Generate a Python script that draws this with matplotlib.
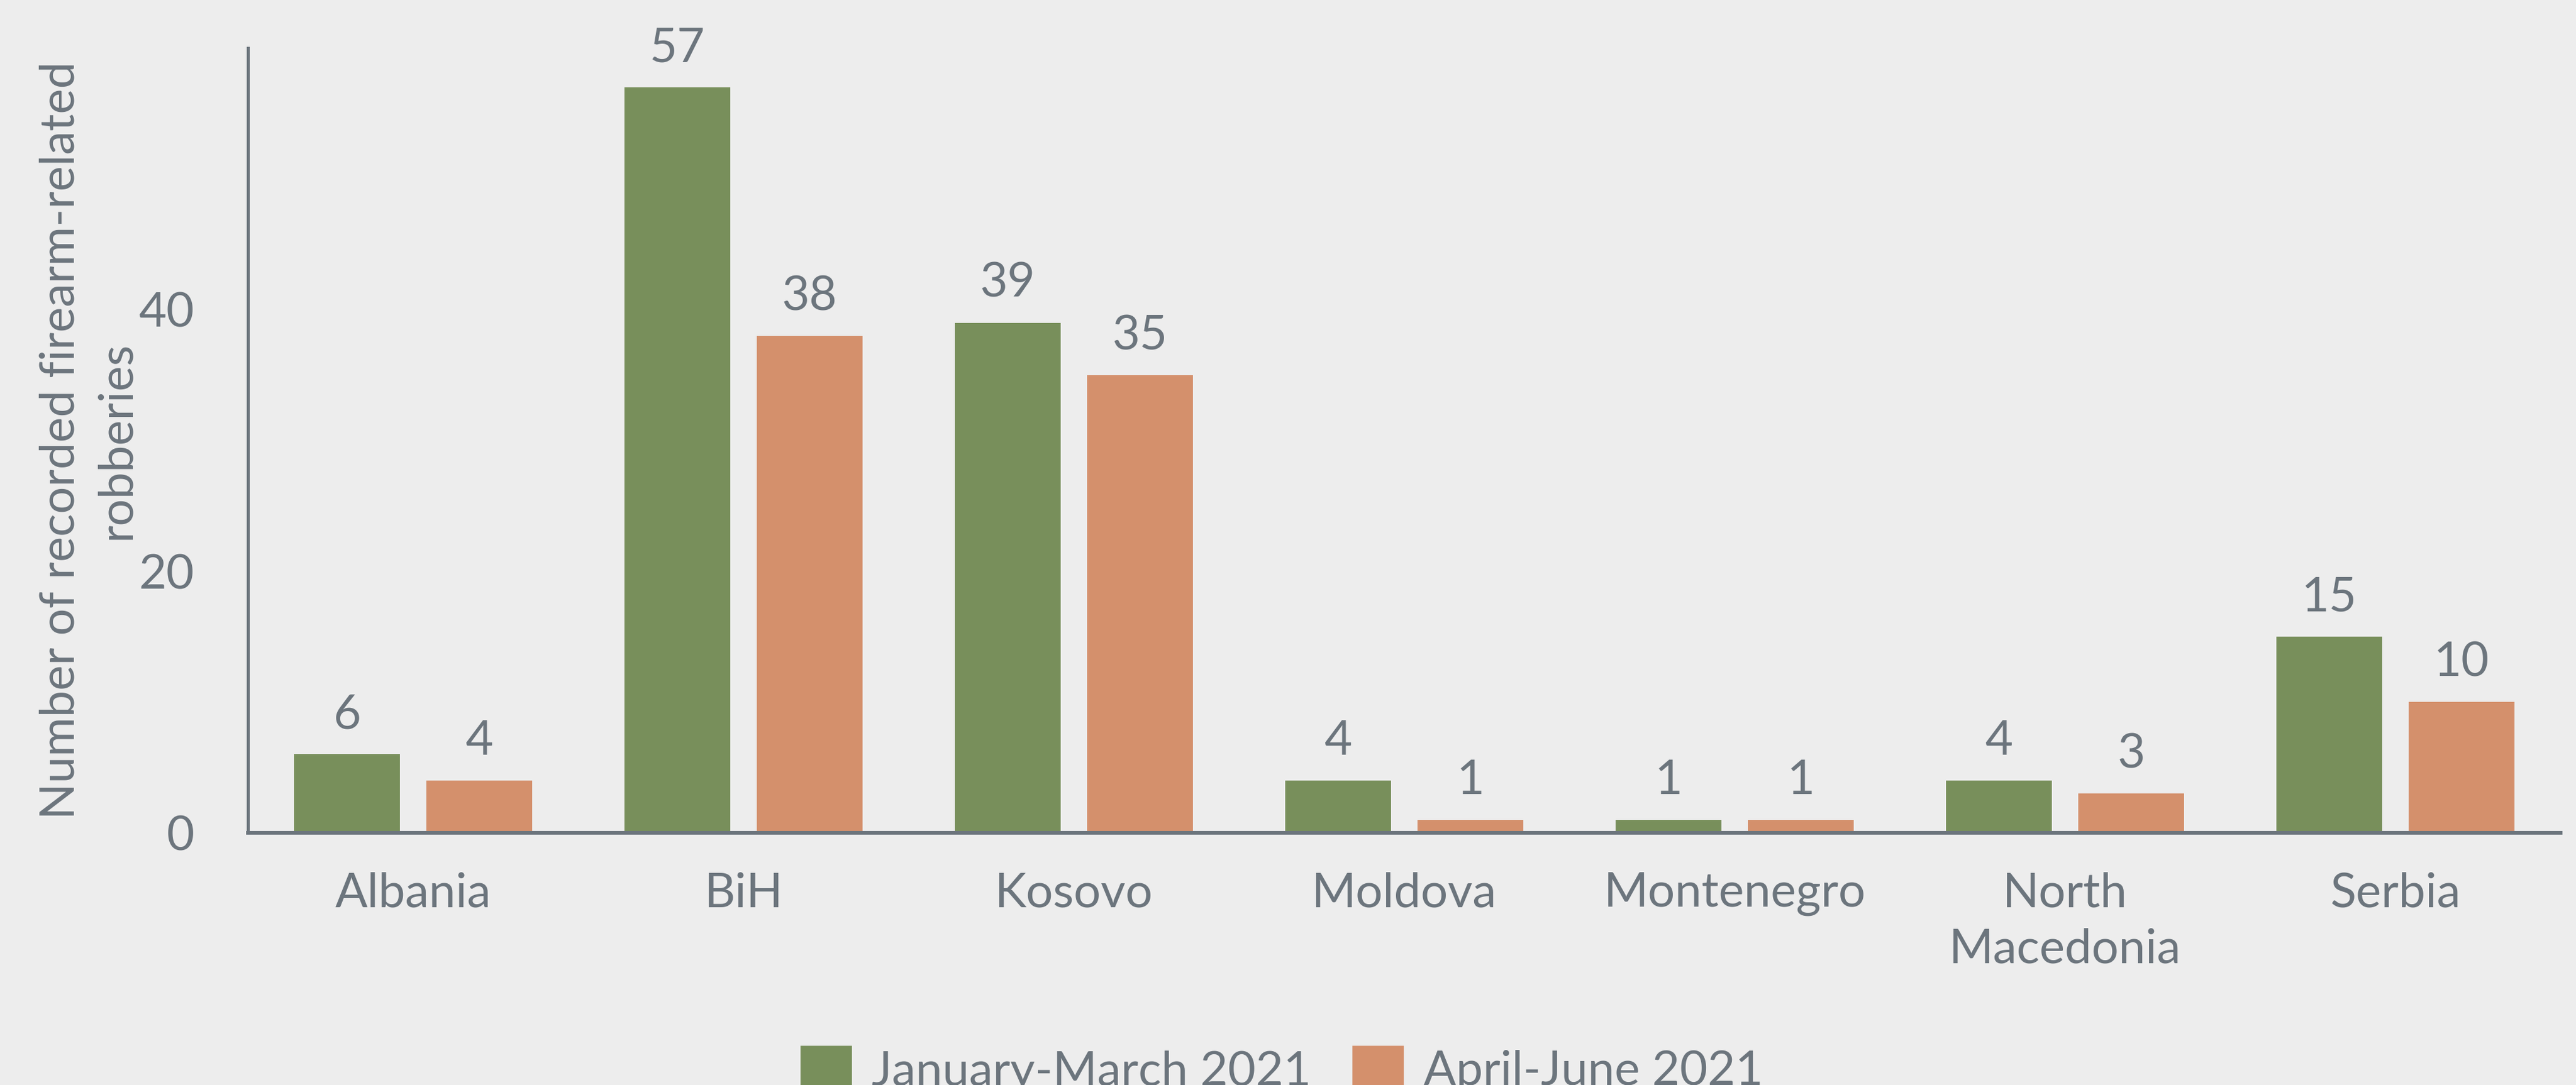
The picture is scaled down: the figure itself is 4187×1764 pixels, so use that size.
import matplotlib
matplotlib.use("Agg")
import matplotlib.pyplot as plt
from matplotlib.patches import Rectangle
import numpy as np

# data
countries = ["Albania", "BiH", "Kosovo", "Moldova", "Montenegro",
             "North\nMacedonia", "Serbia"]
jan_mar = [6, 57, 39, 4, 1, 4, 15]
apr_jun = [4, 38, 35, 1, 1, 3, 10]
series_names = ["January-March 2021", "April-June 2021"]
y_ticks = [0, 20, 40]

GREEN = "#788F5B"
ORANGE = "#D4906C"
GREY = "#6C757D"
BG = "#EDEDED"

plt.rcParams['font.family'] = ['Lato', 'DejaVu Sans']
FS = 56

fig = plt.figure(figsize=(41.87, 17.64), dpi=100, facecolor=BG)
ax = fig.add_axes([0.0963, 0.2324, 0.8977, 0.7234])
ax.set_facecolor(BG)

x = np.arange(len(countries))
w = 0.32
b1 = ax.bar(x - 0.2, jan_mar, width=w, color=GREEN)
b2 = ax.bar(x + 0.2, apr_jun, width=w, color=ORANGE)

for bars, vals in ((b1, jan_mar), (b2, apr_jun)):
    for r, v in zip(bars, vals):
        ax.annotate(str(v), (r.get_x() + r.get_width() / 2, v),
                    xytext=(0, 30), textcoords="offset points",
                    ha="center", va="baseline", fontsize=FS, color=GREY)

ax.set_xlim(-0.5, len(countries) - 0.5)
ax.set_ylim(0, 60)
ax.set_yticks(y_ticks)
ax.set_xticks(x)
ax.set_xticklabels(countries, linespacing=1.35)
ax.tick_params(axis="both", length=0, labelsize=FS, labelcolor=GREY)
ax.tick_params(axis="x", pad=46)
ax.tick_params(axis="y", pad=63)

for s in ("top", "right"):
    ax.spines[s].set_visible(False)
ax.spines["left"].set_color(GREY)
ax.spines["left"].set_linewidth(3.6)
ax.spines["bottom"].set_color(GREY)
ax.spines["bottom"].set_linewidth(4.3)

ax.set_ylabel("Number of recorded firearm-related\nrobberies",
              fontsize=FS, color=GREY, linespacing=1.35)
ax.yaxis.set_label_coords(-0.0474, 0.5)

handles = [Rectangle((0, 0), 1, 1, facecolor=c, edgecolor=c, linewidth=4,
                     joinstyle="round") for c in (GREEN, ORANGE)]
fig.legend(handles, series_names, loc="lower center",
           bbox_to_anchor=(0.498, -0.008), ncol=2, frameon=False,
           fontsize=FS, labelcolor=GREY, handlelength=1.0, handleheight=1.0,
           handletextpad=0.45, columnspacing=0.9, borderpad=0,
           borderaxespad=0)

fig.savefig("out.png", dpi=100, facecolor=BG)
